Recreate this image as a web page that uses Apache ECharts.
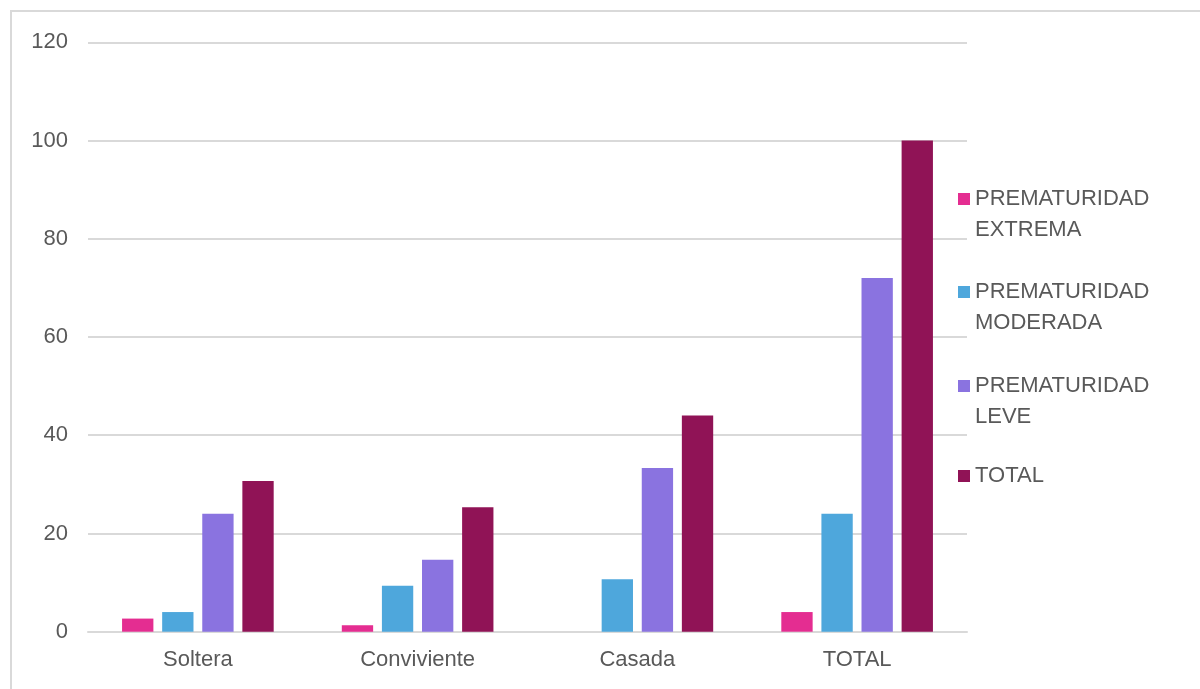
<!DOCTYPE html>
<html>
<head>
<meta charset="utf-8">
<title>Prematuridad según estado civil</title>
<script src="https://cdn.jsdelivr.net/npm/echarts@6/dist/echarts.min.js"></script>
<style>
  html, body { margin: 0; padding: 0; background: #ffffff; }
  #chart { width: 1200px; height: 689px; }
</style>
</head>
<body>
<div id="chart"></div>
<script>
// Categories on the x axis
const categories = ['Soltera', 'Conviviente', 'Casada', 'TOTAL'];

// Series names (two-line legend labels)
const seriesNames = [
  'PREMATURIDAD\nEXTREMA',
  'PREMATURIDAD\nMODERADA',
  'PREMATURIDAD\nLEVE',
  'TOTAL'
];

// Percentages per category
const extrema  = [2.67, 1.33, 0, 4];
const moderada = [4, 9.33, 10.67, 24];
const leve     = [24, 14.67, 33.33, 72];
const total    = [30.67, 25.33, 44, 100];

// Y axis ticks
const yMin = 0, yMax = 120, yStep = 20;

const colors = ['#E42D91', '#4EA7DC', '#8A73E0', '#901356'];
const values = [extrema, moderada, leve, total];

const FONT = '"Liberation Sans", Arial, sans-serif';
const FONT_SIZE = 22;
const TEXT_COLOR = '#595959';
const LINE_COLOR = '#d9d9d9';

const chart = echarts.init(document.getElementById('chart'), null, { renderer: 'canvas' });

// Square on the first text line for two-line names, centred for one-line names
const topSquare = 'path://M0,9.5h12v12h-12z M0,0h0 M0,62h0';
const legendTops = [183.5, 276.5, 370.5, 460.5];

const legends = seriesNames.map((name, i) => {
  const twoLine = name.indexOf('\n') >= 0;
  return {
    data: [{ name: name, icon: twoLine ? topSquare : 'rect' }],
    left: 958,
    top: legendTops[i],
    padding: 0,
    itemWidth: 12,
    itemHeight: twoLine ? 62 : 12,
    symbolKeepAspect: false,
    selectedMode: false,
    textStyle: {
      color: TEXT_COLOR,
      fontFamily: FONT,
      fontSize: FONT_SIZE,
      lineHeight: 31
    }
  };
});

const option = {
  animation: false,
  backgroundColor: '#ffffff',
  color: colors,
  graphic: [{
    type: 'rect',
    shape: { x: 11, y: 11, width: 1300, height: 800 },
    style: { fill: 'none', stroke: LINE_COLOR, lineWidth: 2 },
    silent: true
  }],
  legend: legends,
  grid: {
    left: 88,
    right: 233,
    top: 42.3,
    bottom: 57.3,
    containLabel: false
  },
  xAxis: {
    type: 'category',
    data: categories,
    axisLine: { show: true, lineStyle: { color: LINE_COLOR, width: 2 } },
    axisTick: { show: false },
    axisLabel: {
      color: TEXT_COLOR,
      fontFamily: FONT,
      fontSize: FONT_SIZE,
      margin: 17
    }
  },
  yAxis: {
    type: 'value',
    min: yMin,
    max: yMax,
    interval: yStep,
    axisLine: { show: false },
    axisTick: { show: false },
    splitLine: { lineStyle: { color: LINE_COLOR, width: 2 } },
    axisLabel: {
      color: TEXT_COLOR,
      fontFamily: FONT,
      fontSize: FONT_SIZE,
      margin: 20
    }
  },
  series: seriesNames.map((name, i) => ({
    name: name,
    type: 'bar',
    data: values[i],
    barGap: '28%',
    barCategoryGap: '31%',
    itemStyle: { color: colors[i] }
  }))
};

chart.setOption(option);
</script>
</body>
</html>
